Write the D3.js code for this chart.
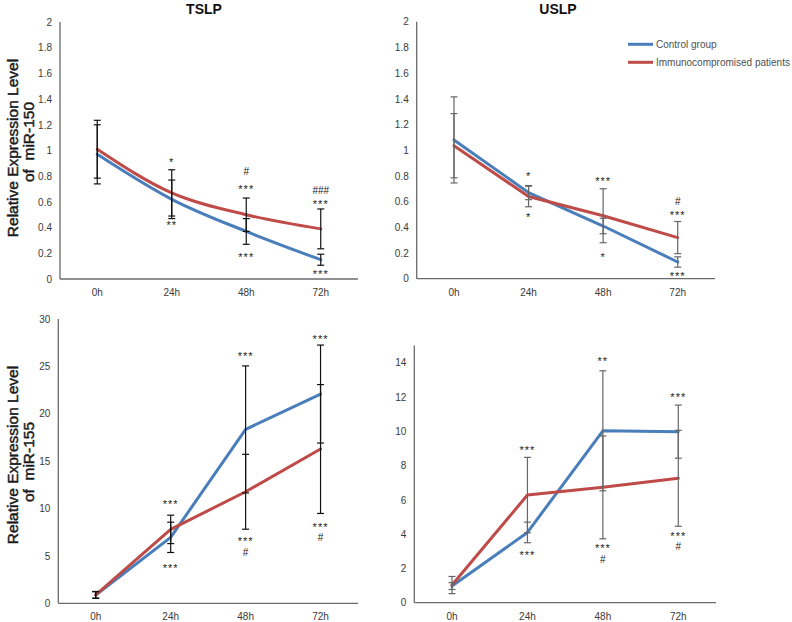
<!DOCTYPE html>
<html><head><meta charset="utf-8">
<script src="https://cdn.jsdelivr.net/npm/d3@7"></script>
<style>body{margin:0;background:#fff}svg{display:block;font-family:"Liberation Sans",Arial,sans-serif}</style>
</head><body><div id="chart"></div>
<script>
const categories = ["0h","24h","48h","72h"];
const seriesNames = ["Control group","Immunocompromised patients"];

// miR-150, TSLP
const tslp150Control = [0.97,0.62,0.37,0.15];
const tslp150ControlErr = [0.23,0.15,0.10,0.043];
const tslp150Patients = [1.01,0.67,0.50,0.39];
const tslp150PatientsErr = [0.225,0.18,0.13,0.155];
// miR-150, USLP
const uslp150Control = [1.08,0.67,0.41,0.13];
const uslp150ControlErr = [0.335,0.055,0.06,0.04];
const uslp150Patients = [1.035,0.64,0.49,0.32];
const uslp150PatientsErr = [0.25,0.08,0.21,0.125];
// miR-155, TSLP
const tslp155Control = [0.87,6.96,18.35,22.08];
const tslp155ControlErr = [0.35,1.6,6.7,5.17];
const tslp155Patients = [0.9,7.8,11.77,16.28];
const tslp155PatientsErr = [0.35,1.5,3.95,6.8];
// miR-155, USLP
const uslp155Control = [0.97,4.1,10.03,9.98];
const uslp155ControlErr = [0.2,0.6,3.5,1.55];
const uslp155Patients = [1.03,6.28,6.73,7.26];
const uslp155PatientsErr = [0.5,2.2,3.0,2.8];

// tick labels
const ticks150 = [0,0.2,0.4,0.6,0.8,1,1.2,1.4,1.6,1.8,2];
const ticks155T = [0,5,10,15,20,25,30];
const ticks155U = [0,2,4,6,8,10,12,14];

// significance marks: [category, level, text]
const marksTSLP150 = [["24h",0.93,"*"],["24h",0.44,"**"],["48h",0.835,"#"],["48h",0.72,"***"],["48h",0.19,"***"],["72h",0.69,"###"],["72h",0.60,"***"],["72h",0.06,"***"]];
const marksUSLP150 = [["24h",0.82,"*"],["24h",0.50,"*"],["48h",0.78,"***"],["48h",0.19,"*"],["72h",0.60,"#"],["72h",0.51,"***"],["72h",0.04,"***"]];
const marksTSLP155 = [["24h",10.7,"***"],["24h",4.0,"***"],["48h",26.3,"***"],["48h",6.8,"***"],["48h",5.4,"#"],["72h",28.1,"***"],["72h",8.26,"***"],["72h",6.96,"#"]];
const marksUSLP155 = [["24h",9.07,"***"],["24h",2.92,"***"],["48h",14.25,"**"],["48h",3.3,"***"],["48h",2.53,"#"],["72h",12.15,"***"],["72h",4.05,"***"],["72h",3.3,"#"]];

const colors = ["#4a7ebb","#be4b48"];
const W = 792, H = 622;
const svg = d3.select("#chart").append("svg").attr("width",W).attr("height",H);

function panel(o){
  const x = d3.scaleBand().domain(categories).range([o.x0,o.x1]);
  const y = d3.scaleLinear().domain([0,o.max]).range([o.yb,o.yt]);
  const g = svg.append("g");
  const cx = c => x(c)+x.bandwidth()/2;
  const ya = g.append("g").attr("transform",`translate(${o.x0},0)`)
    .call(d3.axisLeft(y).tickValues(o.ticks).tickSize(0).tickPadding(8).tickFormat(d=>String(d)));
  ya.select(".domain").attr("stroke","#6b6b6b").attr("stroke-width",1.3).attr("d",`M0,${o.yt}V${o.yb}`);
  ya.selectAll("text").attr("font-size",10).attr("fill","#3a3a3a").attr("font-family","Liberation Sans, Arial");
  const xa = g.append("g").attr("transform",`translate(0,${o.yb})`)
    .call(d3.axisBottom(x).tickSize(0).tickPadding(10));
  xa.select(".domain").attr("stroke","#6b6b6b").attr("stroke-width",1.3).attr("d",`M${o.x0},0H${o.x1}`);
  xa.selectAll("text").attr("font-size",10).attr("fill","#3a3a3a").attr("font-family","Liberation Sans, Arial");
  const line = d3.line().x((d,i)=>cx(categories[i])).y(d=>y(d)).curve(o.smooth?d3.curveMonotoneX:d3.curveLinear);
  o.series.forEach((s,k)=>{
    g.append("path").datum(s.v).attr("d",line).attr("fill","none")
      .attr("stroke",colors[k]).attr("stroke-width",3).attr("stroke-linejoin","round").attr("stroke-linecap","round");
  });
  o.series.forEach((s,k)=>{
    s.v.forEach((v,i)=>{
      const px = cx(categories[i]), e = s.e[i];
      const top = y(v+e), bot = y(v-e);
      const eg = g.append("g").attr("stroke",o.errColor).attr("stroke-width",1.2);
      eg.append("line").attr("x1",px).attr("x2",px).attr("y1",top).attr("y2",bot);
      eg.append("line").attr("x1",px-3.5).attr("x2",px+3.5).attr("y1",top).attr("y2",top);
      eg.append("line").attr("x1",px-3.5).attr("x2",px+3.5).attr("y1",bot).attr("y2",bot);
    });
  });
  o.marks.forEach(m=>{
    const isStar = m[2].indexOf("*")>=0;
    const fs = isStar?11:10;
    g.append("text").attr("x",cx(m[0])).attr("y",y(m[1]) + (isStar?0.57:0.36)*fs)
      .attr("text-anchor","middle").attr("font-size",fs).attr("fill","#222")
      .attr("letter-spacing",isStar?"1px":"0").text(m[2]);
  });
  if(o.title){
    g.append("text").attr("x",o.titleX).attr("y",14).attr("text-anchor","middle")
      .attr("font-size",14).attr("font-weight","bold").attr("fill","#111").text(o.title);
  }
  if(o.ylab){
    g.append("text").attr("transform",`translate(18,${o.ylab.c1}) rotate(-90)`).attr("text-anchor","middle")
      .attr("font-size",15.5).attr("fill","#1a1a1a").attr("stroke","#1a1a1a").attr("stroke-width",0.45)
      .text("Relative Expression Level");
    g.append("text").attr("transform",`translate(34,${o.ylab.c2}) rotate(-90)`).attr("text-anchor","middle")
      .attr("font-size",15.5).attr("fill","#1a1a1a").attr("stroke","#1a1a1a").attr("stroke-width",0.45)
      .style("white-space","pre").text(o.ylab.t);
  }
}

panel({x0:60,x1:358,yb:279,yt:22,max:2,ticks:ticks150,errColor:"#111",smooth:true,
  series:[{v:tslp150Control,e:tslp150ControlErr},{v:tslp150Patients,e:tslp150PatientsErr}],
  marks:marksTSLP150,title:"TSLP",titleX:204,ylab:{t:"of  miR-150",c1:148,c2:142}});
panel({x0:416.7,x1:715,yb:278.7,yt:21.7,max:2,ticks:ticks150,errColor:"#666",smooth:false,
  series:[{v:uslp150Control,e:uslp150ControlErr},{v:uslp150Patients,e:uslp150PatientsErr}],
  marks:marksUSLP150,title:"USLP",titleX:558});
panel({x0:58.3,x1:358,yb:603.3,yt:319,max:30,ticks:ticks155T,errColor:"#111",smooth:false,
  series:[{v:tslp155Control,e:tslp155ControlErr},{v:tslp155Patients,e:tslp155PatientsErr}],
  marks:marksTSLP155,ylab:{t:"of  miR-155",c1:455,c2:462}});
panel({x0:414.3,x1:716,yb:602.7,yt:345.6,max:15,ticks:ticks155U,errColor:"#666",smooth:false,
  series:[{v:uslp155Control,e:uslp155ControlErr},{v:uslp155Patients,e:uslp155PatientsErr}],
  marks:marksUSLP155});

const lg = svg.append("g");
seriesNames.forEach((n,i)=>{
  const yy = 44.3 + i*18;
  lg.append("line").attr("x1",628).attr("x2",653).attr("y1",yy).attr("y2",yy).attr("stroke",colors[i]).attr("stroke-width",3);
  lg.append("text").attr("x",656).attr("y",yy+3.5).attr("font-size",10).attr("fill","#505050").text(n);
});
</script></body></html>
